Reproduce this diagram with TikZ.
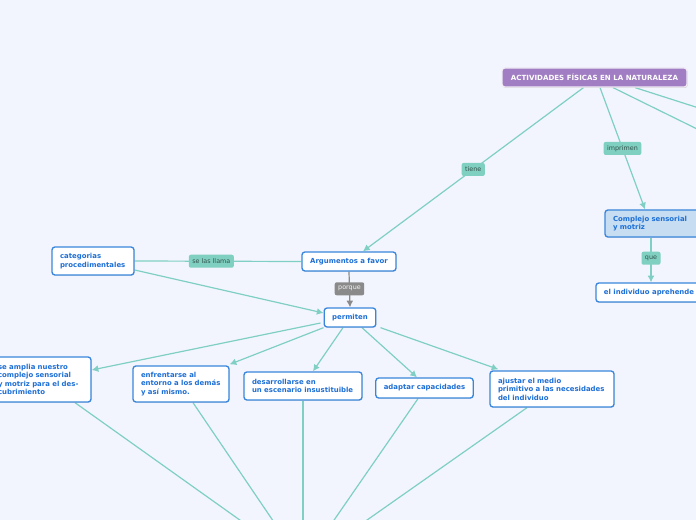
\documentclass[tikz,border=0pt]{standalone}
\usepackage{fontspec}
\setmainfont{DejaVu Sans}
\usetikzlibrary{arrows.meta,calc,shadows}
\definecolor{bgc}{HTML}{F2F5FD}
\definecolor{boxb}{HTML}{3A86DC}
\definecolor{txtb}{HTML}{1D6FD6}
\definecolor{labf}{HTML}{7FD0C1}
\definecolor{labt}{HTML}{35524D}
\definecolor{linec}{HTML}{7FCFC4}
\definecolor{grayl}{HTML}{8A8A8A}
\definecolor{rootf}{HTML}{A17EC3}
\definecolor{csf}{HTML}{C6DDF2}
\pgfdeclarelayer{bgfill}
\pgfdeclarelayer{edges}
\pgfsetlayers{bgfill,edges,main}
\begin{document}
\begin{tikzpicture}[x=0.75pt,y=-0.75pt,
  box/.style={draw=boxb, line width=1pt, fill=white, rounded corners=2.2pt,
    font=\bfseries\fontsize{5.2}{6.4}\selectfont, text=txtb, inner xsep=6pt, inner ysep=1pt,
    align=left, drop shadow={shadow xshift=0.4pt, shadow yshift=-0.6pt, opacity=0.2}},
  rootbox/.style={draw=white!85!rootf, line width=0.9pt, fill=rootf, rounded corners=2.2pt,
    font=\bfseries\fontsize{5.3}{6.4}\selectfont, text=white, inner xsep=4pt,
    drop shadow={shadow xshift=0.5pt, shadow yshift=-0.7pt, opacity=0.35}},
  lab/.style={fill=labf, rounded corners=1.5pt, font=\fontsize{4.8}{5.6}\selectfont,
    text=labt, inner xsep=2.6pt, inner ysep=0pt, minimum height=9.75pt},
  glab/.style={lab, fill=grayl, text=white!90!grayl},
  conn/.style={draw=linec, line width=0.9pt},
  gconn/.style={draw=grayl, line width=0.9pt},
  arr/.style={-{Latex[length=5pt,width=5.2pt]}}
]
\useasboundingbox (0,0) rectangle (696,520);
\begin{pgfonlayer}{bgfill}
\fill[bgc] (0,0) rectangle (696,520);
\end{pgfonlayer}
\clip (0,0) rectangle (696,520);

% off-canvas targets
\coordinate (offa) at (760,160);
\coordinate (offb) at (780,134);
\coordinate (bot) at (303,565);

\node[rootbox, minimum width=138.75pt, minimum height=14.25pt] (root) at (594.5,77.5) {ACTIVIDADES FÍSICAS EN LA NATURALEZA};
\node[box, fill=csf, text width=59.25pt, minimum height=20.25pt] (cs) at (652.5,223.5) {Complejo sensorial\\y motriz};
\node[box, minimum width=78.75pt, minimum height=14.25pt, align=center] (apr) at (649,292.5) {el individuo aprehende};
\node[box, minimum width=70.5pt, minimum height=14.25pt, align=center] (arg) at (349,261.5) {Argumentos a favor};
\node[box, text width=49.5pt, minimum height=21pt] (cat) at (93,261) {categorias\\procedimentales};
\node[box, minimum width=37.5pt, minimum height=14.25pt, align=center] (perm) at (350,317.5) {permiten};
\node[box, text width=63.75pt, minimum height=33.75pt] (amp) at (40.5,379.5) {se amplia nuestro\\complejo sensorial\\y motriz para el des-\\cubrimiento};
\node[box, text width=60pt, minimum height=27pt] (enf) at (181,384) {enfrentarse al\\entorno a los demás\\y así mismo.};
\node[box, text width=76.5pt, minimum height=21pt] (des) at (303,386) {desarrollarse en\\un escenario insustituible};
\node[box, minimum width=72.75pt, minimum height=15pt, align=center] (ada) at (424.5,388) {adaptar capacidades};
\node[box, text width=81pt, minimum height=27pt] (aju) at (552,389) {ajustar el medio\\primitivo a las necesidades\\del individuo};

\begin{pgfonlayer}{edges}
\draw[conn, arr] ($(root.south)+(-11,0)$) -- node[lab, pos=0.5] {tiene} ($(arg.north)+(14,0)$);
\draw[conn, arr] ($(root.south)+(5.5,0)$) -- node[lab, pos=0.5] {imprimen} ($(cs.north)+(-7.5,0)$);
\draw[conn] ($(root.south)+(18.5,0)$) -- (offa);
\draw[conn] ($(root.south)+(40.5,0)$) -- (offb);
\draw[conn, arr] ($(cs.south)+(-1.5,0)$) -- node[lab, pos=0.46] {que} ($(apr.north)+(2,0)$);
\draw[conn] (cat.east) -- node[lab, pos=0.46] {se las llama} (arg.west);
\draw[conn, arr] ($(cat.east)+(0,9)$) -- ($(perm.west)+(0,-4.5)$);
\draw[gconn, -{Latex[length=5pt,width=5.2pt]}] (arg.south) -- node[glab, pos=0.48] {porque} (perm.north);
\draw[conn, arr] ($(perm.west)+(-3,5.5)$) -- ($(amp.east)+(0,-9.5)$);
\draw[conn, arr] (perm.south west) -- ($(enf.north east)+(0,-1)$);
\draw[conn, arr] ($(perm.south)+(-7,0)$) -- ($(des.north)+(10,0)$);
\draw[conn, arr] ($(perm.south)+(12,0)$) -- ($(ada.north)+(-7.5,0)$);
\draw[conn, arr] ($(perm.south east)+(4,0)$) -- ($(aju.north west)+(9,-1)$);
\draw[conn] ($(amp.south)+(34.5,0)$) -- (bot);
\draw[conn] ($(enf.south)+(12,0)$) -- (bot);
\draw[conn] (des.south) -- (bot);
\draw[conn] ($(ada.south)+(-6.5,0)$) -- (bot);
\draw[conn] ($(aju.south)+(-25,0)$) -- (bot);
\end{pgfonlayer}
\end{tikzpicture}
\end{document}
